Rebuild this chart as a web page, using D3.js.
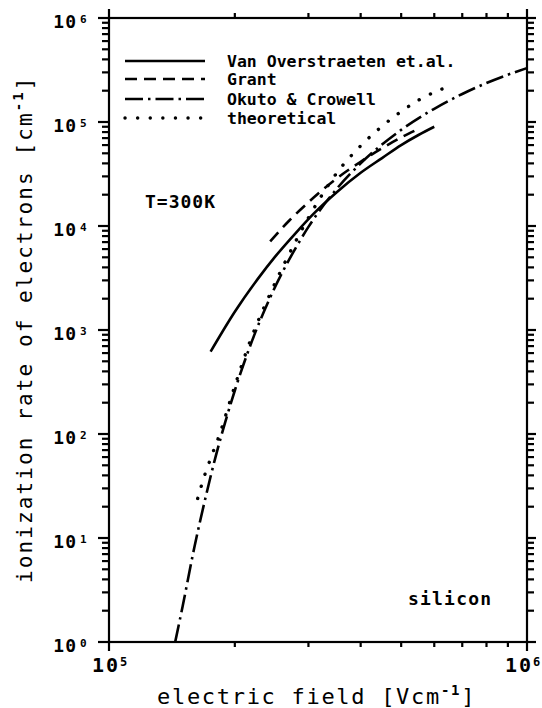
<!DOCTYPE html>
<html>
<head>
<meta charset="utf-8">
<script src="https://cdn.jsdelivr.net/npm/d3@7"></script>
<style>
  html, body { margin: 0; padding: 0; background: #fff; }
  svg { display: block; }
  text { font-family: "DejaVu Sans Mono", monospace; fill: #000; }
</style>
</head>
<body>
<svg id="chart" width="542" height="708"></svg>
<script>
// Electron ionization rate in silicon versus electric field (T = 300 K)

const seriesNames = ["Van Overstraeten et.al.", "Grant", "Okuto & Crowell", "theoretical"];

// electric field [V/cm] and ionization rate [1/cm] for each curve
const fieldVanOverstraeten = [1.75e5, 2.0e5, 2.27e5, 2.5e5, 2.8e5, 3.08e5, 3.5e5, 4.0e5, 4.5e5, 5.0e5, 5.5e5, 6.0e5];
const alphaVanOverstraeten = [620, 1500, 3100, 5100, 8600, 1.3e4, 2.1e4, 3.25e4, 4.5e4, 6.0e4, 7.5e4, 9.0e4];

const fieldGrant = [2.43e5, 2.7e5, 3.0e5, 3.5e5, 4.0e5, 4.5e5, 5.0e5, 5.4e5];
const alphaGrant = [7.1e3, 1.13e4, 1.69e4, 2.85e4, 4.15e4, 5.6e4, 7.1e4, 8.3e4];

const fieldOkuto = [1.44e5, 1.5e5, 1.6e5, 1.7e5, 1.8e5, 1.9e5, 2.0e5, 2.2e5, 2.4e5, 2.6e5, 2.8e5, 3.0e5, 3.5e5, 4.0e5, 5.0e5, 6.0e5, 7.0e5, 8.0e5, 9.0e5, 1.0e6];
const alphaOkuto = [1.0, 2.2, 8.1, 24, 61, 133, 262, 790, 1840, 3600, 6200, 9800, 2.26e4, 4.0e4, 8.4e4, 1.34e5, 1.86e5, 2.37e5, 2.85e5, 3.3e5];

const fieldTheory = [1.63e5, 1.70e5, 1.75e5, 1.84e5, 2.0e5, 2.2e5, 2.4e5, 2.6e5, 2.8e5, 3.0e5, 3.2e5, 3.5e5, 4.0e5, 4.5e5, 5.0e5, 5.5e5, 6.0e5, 6.35e5];
const alphaTheory = [24, 42, 58, 100, 290, 880, 2000, 4000, 7200, 1.2e4, 1.86e4, 3.2e4, 5.9e4, 9.1e4, 1.26e5, 1.62e5, 1.93e5, 2.12e5];

// axis decades and the mantissas of the intermediate ticks
const xDecades = [5, 6];
const yDecades = [0, 1, 2, 3, 4, 5, 6];
const minorMantissas = [2, 3, 4, 5, 6, 7, 8, 9];

const xTitle = "electric field [Vcm";
const yTitle = "ionization rate of electrons [cm";

const svg = d3.select("#chart");
const plotLeft = 109, plotRight = 527, plotTop = 18, plotBottom = 642;

const x = d3.scaleLog().domain([1e5, 1e6]).range([plotLeft, plotRight]);
const y = d3.scaleLog().domain([1, 1e6]).range([plotBottom, plotTop]);

function tickList(decades) {
  const out = [];
  decades.forEach((e, i) => {
    out.push({ v: Math.pow(10, e), major: true });
    if (i < decades.length - 1) minorMantissas.forEach(m => out.push({ v: m * Math.pow(10, e), major: false }));
  });
  return out;
}
const xTicks = tickList(xDecades);
const yTicks = tickList(yDecades);

// frame
svg.append("rect")
  .attr("x", plotLeft).attr("y", plotTop)
  .attr("width", plotRight - plotLeft).attr("height", plotBottom - plotTop)
  .attr("fill", "none").attr("stroke", "#000").attr("stroke-width", 2.2);

// ticks point outward on all four sides; decades are longer
const minorLen = 7, majorLen = 11;
const tickGroup = svg.append("g");
function drawTicks(cls, data, pos) {
  tickGroup.selectAll("line." + cls).data(data).join("line")
    .attr("class", cls)
    .attr("stroke", "#000").attr("stroke-width", 2.2)
    .each(function (d) {
      const p = pos(d);
      d3.select(this).attr("x1", p[0]).attr("y1", p[1]).attr("x2", p[2]).attr("y2", p[3]);
    });
}
drawTicks("xb", xTicks, d => [x(d.v), plotBottom, x(d.v), plotBottom + (d.major ? majorLen - 2 : minorLen - 2)]);
drawTicks("xt", xTicks, d => [x(d.v), plotTop, x(d.v), plotTop - (d.major ? majorLen - 2 : minorLen - 2)]);
drawTicks("yl", yTicks, d => [plotLeft, y(d.v), plotLeft - (d.major ? majorLen : minorLen), y(d.v)]);
drawTicks("yr", yTicks, d => [plotRight, y(d.v), plotRight + (d.major ? majorLen - 2 : minorLen), y(d.v)]);

// tick labels: powers of ten with raised exponents
yDecades.forEach(e => {
  const yy = y(Math.pow(10, e));
  svg.append("text").attr("x", 77).attr("y", yy + 10)
    .attr("text-anchor", "end").attr("font-size", 18).attr("font-weight", "bold")
    .attr("letter-spacing", 1).text("10");
  svg.append("text").attr("x", 80).attr("y", yy + 5)
    .attr("font-size", 11).attr("font-weight", "bold").text(e);
});
xDecades.forEach((e, i) => {
  const xx = x(Math.pow(10, e)) - (i === xDecades.length - 1 ? 5 : 0);
  svg.append("text").attr("x", xx - 17).attr("y", 672)
    .attr("font-size", 20).attr("font-weight", "bold")
    .attr("letter-spacing", 2).text("10");
  svg.append("text").attr("x", xx + 11).attr("y", 666)
    .attr("font-size", 12).attr("font-weight", "bold").text(e);
});

// axis titles
const xt = svg.append("text").attr("x", 157).attr("y", 704)
  .attr("font-size", 22).attr("letter-spacing", 1.7);
xt.append("tspan").text(xTitle);
xt.append("tspan").attr("dy", -9).attr("font-size", 14).attr("font-weight", "bold").text("-1");
xt.append("tspan").attr("dy", 9).text("]");

const yt = svg.append("text")
  .attr("transform", "translate(32,583) rotate(-90)")
  .attr("font-size", 21).attr("letter-spacing", 2.1);
yt.append("tspan").text(yTitle);
yt.append("tspan").attr("dy", -9).attr("font-size", 14).attr("font-weight", "bold").text("-1");
yt.append("tspan").attr("dy", 9).text("]");

// curves
const styles = [
  { dash: null, cap: "butt", width: 2.6 },
  { dash: "12,7", cap: "butt", width: 2.6 },
  { dash: "18,5,2.5,5", cap: "butt", width: 2.6 },
  { dash: "0.1,12.5", cap: "round", width: 3.4 }
];
const series = [
  d3.zip(fieldVanOverstraeten, alphaVanOverstraeten),
  d3.zip(fieldGrant, alphaGrant),
  d3.zip(fieldOkuto, alphaOkuto),
  d3.zip(fieldTheory, alphaTheory)
];
const line = d3.line().x(d => x(d[0])).y(d => y(d[1])).curve(d3.curveMonotoneX);

series.forEach((pts, i) => {
  svg.append("path")
    .datum(pts)
    .attr("d", line)
    .attr("fill", "none")
    .attr("stroke", "#000")
    .attr("stroke-width", styles[i].width)
    .attr("stroke-linecap", styles[i].cap)
    .attr("stroke-dasharray", styles[i].dash);
});

// legend
const legendY = [61, 79, 99, 118];
seriesNames.forEach((name, i) => {
  svg.append("line")
    .attr("x1", 125).attr("x2", 205)
    .attr("y1", legendY[i]).attr("y2", legendY[i])
    .attr("stroke", "#000")
    .attr("stroke-width", styles[i].width)
    .attr("stroke-linecap", styles[i].cap)
    .attr("stroke-dasharray", styles[i].dash);
  svg.append("text")
    .attr("x", 227).attr("y", legendY[i] + 5.5)
    .attr("font-size", 16.5).attr("font-weight", "bold")
    .text(name);
});

// annotations
svg.append("text").attr("x", 145).attr("y", 208)
  .attr("font-size", 18).attr("font-weight", "bold").attr("letter-spacing", 1)
  .text("T=300K");
svg.append("text").attr("x", 408).attr("y", 605)
  .attr("font-size", 18).attr("font-weight", "bold").attr("letter-spacing", 1.2)
  .text("silicon");
</script>
</body>
</html>
